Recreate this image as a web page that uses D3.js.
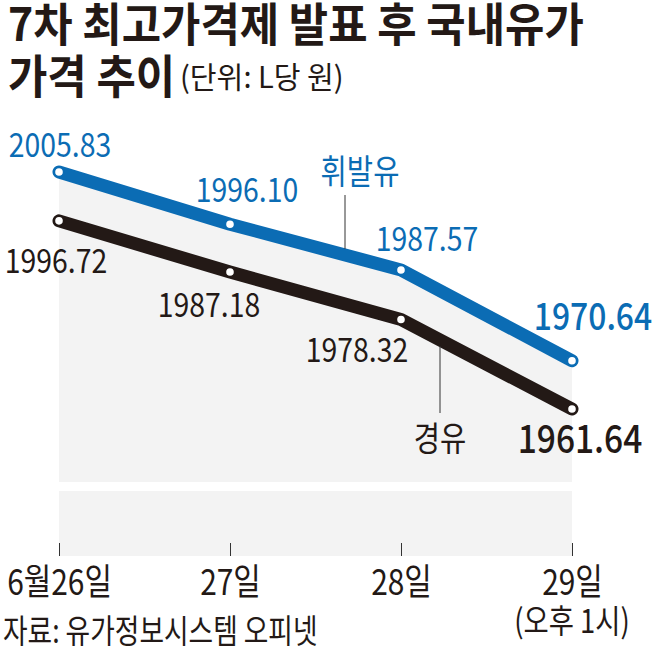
<!DOCTYPE html>
<html>
<head>
<meta charset="utf-8">
<script src="https://cdn.jsdelivr.net/npm/d3@7"></script>
<style>
  body { margin: 0; background: #fff; }
  svg text { font-family: "Noto Sans CJK KR", "Noto Sans", sans-serif; }
</style>
</head>
<body>
<div id="viz"></div>
<script>
// data
const days = ["6월26일", "27일", "28일", "29일"];
const daysSub = ["", "", "", "(오후 1시)"];
const gasoline = [2005.83, 1996.10, 1987.57, 1970.64];   // 휘발유
const diesel = [1996.72, 1987.18, 1978.32, 1961.64];     // 경유
const seriesNames = ["휘발유", "경유"];

const blue = "#0b6cb4";
const dark = "#231916";
const panel = "#f3f3f3";

const W = 658, H = 649;
const svg = d3.select("#viz").append("svg")
  .attr("width", W)
  .attr("height", H);

// squeeze text horizontally, the original font is a condensed one
function squeeze(sel, k) {
  sel.each(function () {
    const w = this.getComputedTextLength();
    d3.select(this).attr("textLength", w * k).attr("lengthAdjust", "spacingAndGlyphs");
  });
}

const x = d3.scalePoint().domain(days).range([59, 572]);
const y = d3.scaleLinear().domain([1961.64, 2005.83]).range([409, 172]);

const panelBottom = 482;   // upper panel ends here (axis break)
const lowerTop = 491, lowerBottom = 556;

// gray panel under the gasoline line
const area = d3.area()
  .x((d, i) => x(days[i]))
  .y0(panelBottom)
  .y1(d => y(d));
svg.append("path")
  .datum(gasoline)
  .attr("d", area)
  .attr("fill", panel);

svg.append("rect")
  .attr("x", x(days[0]))
  .attr("y", lowerTop)
  .attr("width", x(days[3]) - x(days[0]))
  .attr("height", lowerBottom - lowerTop)
  .attr("fill", panel);

// x axis
const axis = svg.append("g")
  .attr("transform", `translate(0,${lowerBottom})`)
  .call(d3.axisBottom(x).tickSize(-13).tickSizeOuter(0));
axis.select(".domain").remove();
axis.selectAll(".tick line").attr("stroke", "#333").attr("stroke-width", 1);
axis.selectAll(".tick text")
  .attr("y", 39).attr("dy", null)
  .attr("fill", dark)
  .style("font-size", "36px")
  .style("font-family", "'Noto Sans CJK KR'")
  .call(squeeze, 0.83);

svg.selectAll(".sub-label")
  .data(days.filter((d, i) => daysSub[i]))
  .join("text")
  .attr("x", d => x(d))
  .attr("y", 633)
  .attr("text-anchor", "middle")
  .attr("fill", dark)
  .style("font-size", "33px")
  .text(d => daysSub[days.indexOf(d)])
  .call(squeeze, 0.83);

// lines
const line = d3.line().x((d, i) => x(days[i])).y(d => y(d));
[[diesel, dark], [gasoline, blue]].forEach(([vals, col]) => {
  svg.append("path")
    .datum(vals)
    .attr("d", line)
    .attr("fill", "none")
    .attr("stroke", col)
    .attr("stroke-width", 13)
    .attr("stroke-linejoin", "round")
    .attr("stroke-linecap", "round");
  svg.append("g")
    .selectAll("circle")
    .data(vals)
    .join("circle")
    .attr("cx", (d, i) => x(days[i]))
    .attr("cy", d => y(d))
    .attr("r", 4.8)
    .attr("fill", "#fff")
    .attr("stroke", col)
    .attr("stroke-width", 2);
});

// value labels (offsets from each point)
const gasOffsets = [[1, -15], [17, -22], [26, -19], [21, -31]];
const dieOffsets = [[-3, 52], [-21, 45], [-44, 42], [8, 44]];
const gasStyle = [[33, 400], [33, 400], [33, 400], [37, 500]];
const dieStyle = [[33, 400], [33, 400], [33, 400], [39, 500]];

function valueLabels(vals, offs, sty, col) {
  svg.append("g")
    .selectAll("text")
    .data(vals)
    .join("text")
    .attr("x", (d, i) => x(days[i]) + offs[i][0])
    .attr("y", (d, i) => y(d) + offs[i][1])
    .attr("text-anchor", "middle")
    .attr("fill", col)
    .style("font-size", (d, i) => sty[i][0] + "px")
    .style("font-weight", (d, i) => sty[i][1])
    .text(d => d.toFixed(2))
    .call(squeeze, 0.86);
}
valueLabels(gasoline, gasOffsets, gasStyle, blue);
valueLabels(diesel, dieOffsets, dieStyle, dark);

// series name callouts
const gx = 345, dx = 440;
svg.append("line")
  .attr("x1", gx).attr("x2", gx)
  .attr("y1", 195).attr("y2", y(d3.interpolate(gasoline[1], gasoline[2])((gx - x(days[1])) / (x(days[2]) - x(days[1])))) - 6)
  .attr("stroke", "#333").attr("stroke-width", 1);
svg.append("text")
  .attr("x", 360).attr("y", 184)
  .attr("text-anchor", "middle")
  .attr("fill", blue)
  .style("font-size", "34px")
  .text(seriesNames[0])
  .call(squeeze, 0.84);

svg.append("line")
  .attr("x1", dx).attr("x2", dx)
  .attr("y1", y(d3.interpolate(diesel[2], diesel[3])((dx - x(days[2])) / (x(days[3]) - x(days[2])))) + 6)
  .attr("y2", 413)
  .attr("stroke", "#333").attr("stroke-width", 1);
svg.append("text")
  .attr("x", dx).attr("y", 451)
  .attr("text-anchor", "middle")
  .attr("fill", dark)
  .style("font-size", "34px")
  .text(seriesNames[1])
  .call(squeeze, 0.84);

// title
svg.append("text")
  .attr("x", 8).attr("y", 41)
  .attr("fill", dark)
  .style("font-size", "46px")
  .style("font-weight", 700)
  .text("7차 최고가격제 발표 후 국내유가")
  .call(squeeze, 0.93);
svg.append("text")
  .attr("x", 8).attr("y", 93)
  .attr("fill", dark)
  .style("font-size", "46px")
  .style("font-weight", 700)
  .text("가격 추이")
  .call(squeeze, 0.93);
svg.append("text")
  .attr("x", 180).attr("y", 88)
  .attr("fill", dark)
  .style("font-size", "30px")
  .text("(단위: L당 원)")
  .call(squeeze, 0.97);

// source
svg.append("text")
  .attr("x", 3).attr("y", 643)
  .attr("fill", dark)
  .style("font-size", "33px")
  .text("자료: 유가정보시스템 오피넷")
  .call(squeeze, 0.81);
</script>
</body>
</html>
